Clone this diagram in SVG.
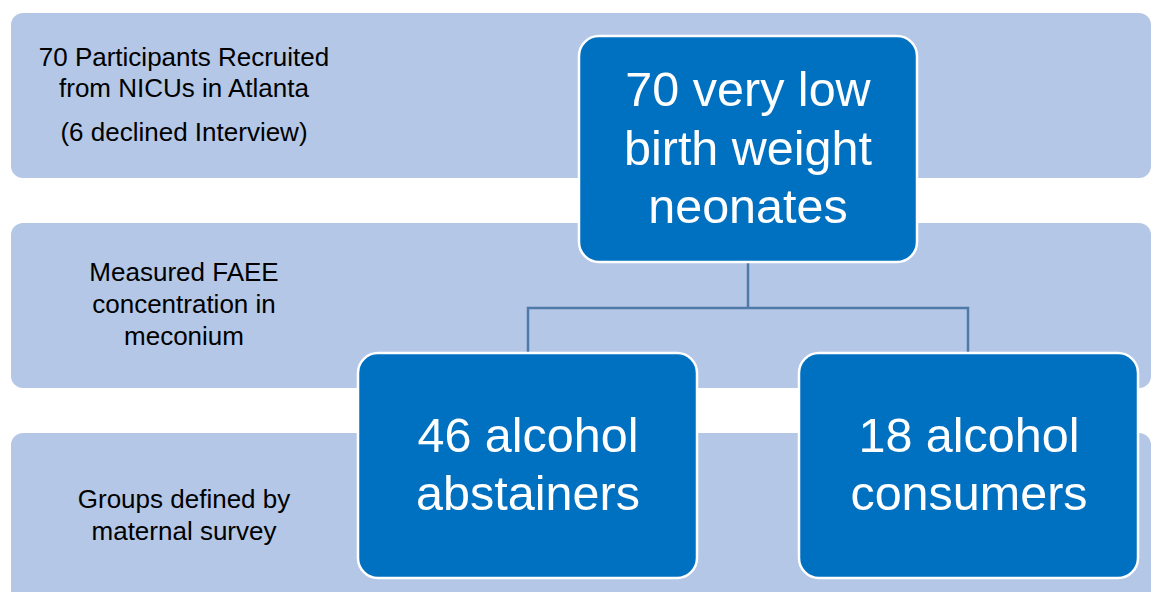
<svg xmlns="http://www.w3.org/2000/svg" width="1152" height="592" viewBox="0 0 1152 592">
<style>
.band{fill:#B4C7E7;}
.node{fill:#0070C0;stroke:#FFFFFF;stroke-width:2.5;}
.lbl{font-family:"Liberation Sans",Arial,sans-serif;font-size:26px;fill:#000000;text-anchor:middle;}
.big{font-family:"Liberation Sans",Arial,sans-serif;font-size:48.5px;fill:#FFFFFF;text-anchor:middle;}
.conn{fill:none;stroke:#4E79A8;stroke-width:2.5;}
</style>
<rect width="1152" height="592" fill="#FFFFFF"/>
<g id="band1">
<rect class="band" x="11" y="13" width="1140" height="165" rx="12"/>
<text class="lbl" x="184" y="66">70 Participants Recruited</text>
<text class="lbl" x="184" y="97">from NICUs in Atlanta</text>
<text class="lbl" x="184" y="141">(6 declined Interview)</text>
</g>
<g id="band2">
<rect class="band" x="11" y="223" width="1140" height="165" rx="12"/>
<text class="lbl" x="184" y="281">Measured FAEE</text>
<text class="lbl" x="184" y="313">concentration in</text>
<text class="lbl" x="184" y="345">meconium</text>
</g>
<g id="band3">
<rect class="band" x="11" y="433" width="1140" height="170" rx="12"/>
<text class="lbl" x="184" y="508">Groups defined by</text>
<text class="lbl" x="184" y="540">maternal survey</text>
</g>
<g id="connectors">
<path class="conn" d="M748 262 V308 M528 352 V308 H968 V352"/>
</g>
<g id="node-top">
<rect class="node" x="579" y="36" width="338" height="226" rx="20"/>
<text class="big" x="748" y="106">70 very low</text>
<text class="big" x="748" y="165">birth weight</text>
<text class="big" x="748" y="223">neonates</text>
</g>
<g id="node-abstainers">
<rect class="node" x="358" y="353" width="339" height="225" rx="20"/>
<text class="big" x="528" y="452">46 alcohol</text>
<text class="big" x="528" y="510">abstainers</text>
</g>
<g id="node-consumers">
<rect class="node" x="799" y="353" width="339" height="225" rx="20"/>
<text class="big" x="969" y="452">18 alcohol</text>
<text class="big" x="969" y="510">consumers</text>
</g>
</svg>
